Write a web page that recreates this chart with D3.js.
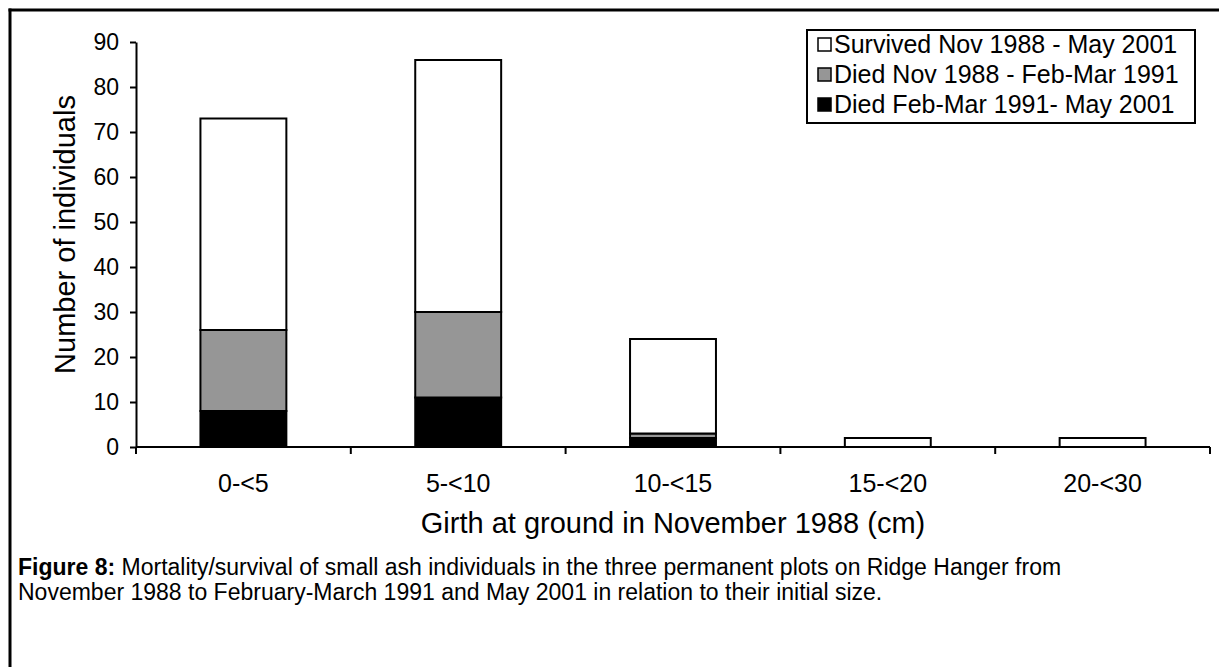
<!DOCTYPE html>
<html>
<head>
<meta charset="utf-8">
<script src="https://cdn.jsdelivr.net/npm/d3@7"></script>
<style>
  body { margin: 0; background: #fff; }
  text { font-family: "Liberation Sans", Arial, sans-serif; fill: #000; }
</style>
</head>
<body>
<div id="chart"></div>
<script>
// girth classes and the three stacked series (number of individuals)
var categories = ["0-<5", "5-<10", "10-<15", "15-<20", "20-<30"];
var diedLate = [8, 11, 2, 0, 0];      // Died Feb-Mar 1991- May 2001
var diedEarly = [18, 19, 1, 0, 0];    // Died Nov 1988 - Feb-Mar 1991
var survived = [47, 56, 21, 2, 2];    // Survived Nov 1988 - May 2001
var yTicks = [0, 10, 20, 30, 40, 50, 60, 70, 80, 90];

var seriesNames = ["Died Feb-Mar 1991- May 2001", "Died Nov 1988 - Feb-Mar 1991", "Survived Nov 1988 - May 2001"];
var seriesColors = ["#000000", "#969696", "#ffffff"];

var W = 1219, H = 667;
var margin = {top: 42, right: 9, bottom: 220, left: 136};
var width = W - margin.left - margin.right,
    height = H - margin.top - margin.bottom;

var svg = d3.select("#chart").append("svg")
  .attr("width", W)
  .attr("height", H);

// frame around the figure
svg.append("line").attr("x1", 8.5).attr("x2", W).attr("y1", 10).attr("y2", 10)
  .attr("stroke", "#000").attr("stroke-width", 3);
svg.append("line").attr("x1", 10).attr("x2", 10).attr("y1", 8.5).attr("y2", H)
  .attr("stroke", "#000").attr("stroke-width", 3);

var g = svg.append("g")
  .attr("transform", "translate(" + margin.left + "," + margin.top + ")");

// build stack rows
var rows = categories.map(function(c, i) {
  return {cat: c, s0: diedLate[i], s1: diedEarly[i], s2: survived[i]};
});
var stack = d3.stack().keys(["s0", "s1", "s2"]);
var layers = stack(rows);

var x = d3.scaleBand()
  .domain(categories)
  .range([0, width])
  .paddingInner(0.6)
  .paddingOuter(0.3);

var y = d3.scaleLinear()
  .domain([0, 90])
  .range([height, 0]);

// bars
g.selectAll("g.layer")
  .data(layers)
  .enter().append("g")
    .attr("class", "layer")
    .attr("fill", function(d, i) { return seriesColors[i]; })
  .selectAll("rect")
  .data(function(d) { return d.filter(function(v) { return v[1] - v[0] > 0; }); })
  .enter().append("rect")
    .attr("x", function(d) { return x(d.data.cat); })
    .attr("width", x.bandwidth())
    .attr("y", function(d) { return y(d[1]); })
    .attr("height", function(d) { return y(d[0]) - y(d[1]); })
    .attr("stroke", "#000")
    .attr("stroke-width", 2);

// y axis
var yAxis = g.append("g")
  .call(d3.axisLeft(y).tickValues(yTicks).tickSize(6).tickSizeOuter(0).tickPadding(11));
yAxis.select(".domain").attr("stroke-width", 2);
yAxis.selectAll(".tick line").attr("stroke-width", 2);
yAxis.selectAll("text").style("font-size", "23px").style("font-family", "Liberation Sans, Arial, sans-serif");

// x axis: ticks at the category boundaries
var xBound = d3.range(categories.length + 1).map(function(i) { return i * width / categories.length; });
var xAxis = g.append("g").attr("transform", "translate(0," + height + ")");
xAxis.append("line").attr("x1", 0).attr("x2", width).attr("y1", 0).attr("y2", 0)
  .attr("stroke", "#000").attr("stroke-width", 2);
xAxis.selectAll("line.tk")
  .data(xBound).enter().append("line")
  .attr("class", "tk")
  .attr("x1", function(d) { return d; }).attr("x2", function(d) { return d; })
  .attr("y1", 0).attr("y2", 7)
  .attr("stroke", "#000").attr("stroke-width", 2);
xAxis.selectAll("text.lbl")
  .data(categories).enter().append("text")
  .attr("class", "lbl")
  .attr("x", function(d) { return x(d) + x.bandwidth() / 2; })
  .attr("y", 45)
  .attr("text-anchor", "middle")
  .style("font-size", "25px")
  .text(function(d) { return d; });

// axis titles
g.append("text")
  .attr("x", width / 2)
  .attr("y", height + 86)
  .attr("text-anchor", "middle")
  .style("font-size", "29px")
  .text("Girth at ground in November 1988 (cm)");

g.append("text")
  .attr("transform", "rotate(-90)")
  .attr("x", -height / 2 + 10)
  .attr("y", -61)
  .attr("text-anchor", "middle")
  .style("font-size", "29px")
  .text("Number of individuals");

// legend
var lg = svg.append("g").attr("transform", "translate(807,30)");
lg.append("rect").attr("x", 0).attr("y", 0).attr("width", 388).attr("height", 93)
  .attr("fill", "#fff").attr("stroke", "#000").attr("stroke-width", 2);
var legendOrder = [2, 1, 0];
var li = lg.selectAll("g.item").data(legendOrder).enter().append("g")
  .attr("class", "item")
  .attr("transform", function(d, i) { return "translate(0," + (14 + i * 30) + ")"; });
li.append("rect")
  .attr("x", 11).attr("y", -6).attr("width", 13).attr("height", 13)
  .attr("fill", function(d) { return seriesColors[d]; })
  .attr("stroke", "#000").attr("stroke-width", 1.5);
li.append("text")
  .attr("x", 27).attr("y", 9)
  .style("font-size", "25px")
  .text(function(d) { return seriesNames[d]; });

// caption
var cap = svg.append("text").attr("x", 18).attr("y", 575).style("font-size", "23px");
cap.append("tspan").style("font-weight", "bold").text("Figure 8:");
cap.append("tspan").text(" Mortality/survival of small ash individuals in the three permanent plots on Ridge Hanger from");
svg.append("text").attr("x", 18).attr("y", 600).style("font-size", "23px")
  .text("November 1988 to February-March 1991 and May 2001 in relation to their initial size.");
</script>
</body>
</html>
